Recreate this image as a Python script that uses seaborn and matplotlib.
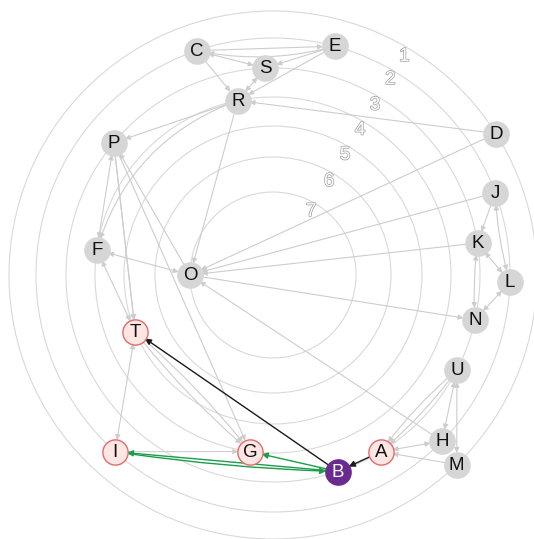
import numpy as np
import pandas as pd
import matplotlib
matplotlib.use("Agg")
import matplotlib.pyplot as plt
import matplotlib.patheffects as pe
from matplotlib.patches import Circle
import seaborn as sns

# ring levels (1 = outermost) and their radii in layout units
ring_levels = [1, 2, 3, 4, 5, 6, 7]
ring_radius = [264, 237, 207, 178, 149, 118, 83]

# nodes: name, ring level, angle on the ring (degrees), role
node_names = ["C", "E", "S", "R", "P", "D", "J", "K", "F", "O",
              "L", "N", "T", "U", "I", "G", "B", "A", "H", "M"]
node_level = [2, 2, 3, 4, 3, 1, 2, 3, 4, 7,
              2, 3, 5, 3, 2, 4, 3, 3, 2, 1]
node_angle = [108.8, 74.9, 92.2, 101.4, 140.3, 32.4, 20.3, 8.9, 171.9, 180.0,
              -1.7, -12.5, 202.4, -27.3, 228.2, 262.6, 288.3, 301.4, -44.5, -45.9]
node_role = ["other", "other", "other", "other", "other", "other", "other", "other", "other", "other",
             "other", "other", "neighbor", "other", "neighbor", "neighbor", "focal", "neighbor", "other", "other"]

# edges: source, target, kind, both directions, curvature
edge_src = ["C", "E", "C", "E", "S", "C", "E", "D", "R", "R", "R", "P", "P", "O", "P",
            "F", "T", "P", "T", "T", "T", "I", "D", "J", "K", "J", "K", "K", "L", "J",
            "O", "U", "U", "U", "U", "H", "M", "H",
            "A", "B", "B", "B", "I"]
edge_dst = ["E", "C", "S", "S", "R", "R", "R", "R", "P", "O", "F", "F", "T", "P", "G",
            "O", "F", "T", "I", "G", "G", "G", "O", "O", "O", "K", "L", "N", "N", "L",
            "N", "H", "M", "A", "A", "A", "A", "O",
            "B", "T", "G", "I", "B"]
edge_kind = ["gray"] * 38 + ["black", "black", "green", "green", "green"]
edge_both = [False, False, True, False, True, False, False, False, False, False, False, True, False, False, False,
             True, True, False, True, False, False, False, False, False, False, False, True, True, True, True,
             False, True, True, False, False, True, False, False,
             False, False, False, False, False]
edge_rad = [0.0, -0.12, 0.0, 0.0, 0.0, 0.0, 0.0, 0.0, 0.0, 0.0, 0.25, 0.0, 0.0, 0.0, 0.0,
            0.0, 0.0, 0.0, 0.0, 0.05, -0.05, 0.0, 0.0, 0.0, 0.0, 0.0, 0.0, 0.05, 0.0, 0.06,
            0.0, 0.0, 0.0, 0.06, -0.06, 0.0, 0.0, 0.0,
            0.0, 0.0, 0.0, 0.0, 0.03]

center_x, center_y = 273, 275

radius_by_level = dict(zip(ring_levels, ring_radius))
df = pd.DataFrame({"name": node_names, "level": node_level,
                   "angle": node_angle, "role": node_role})
df["r"] = df["level"].map(radius_by_level)
df["x"] = center_x + df["r"] * np.cos(np.radians(df["angle"]))
df["y"] = center_y - df["r"] * np.sin(np.radians(df["angle"]))
pos = {n: (x, y) for n, x, y in zip(df["name"], df["x"], df["y"])}

sns.set_style("white")
plt.rcParams["font.family"] = ["Liberation Sans", "DejaVu Sans"]

fig = plt.figure(figsize=(5.34, 5.39), dpi=100)
ax = fig.add_axes([0, 0, 1, 1])

# concentric rings
for lvl, r in zip(ring_levels, ring_radius):
    ax.add_patch(Circle((center_x, center_y), r, fill=False,
                        edgecolor="#d9d9d9", lw=0.8, zorder=1))
    a = np.radians(59)
    ax.text(center_x + (r - 9) * np.cos(a), center_y - (r - 9) * np.sin(a),
            str(lvl), fontsize=13.5, color="white", ha="center", va="center",
            zorder=2,
            path_effects=[pe.withStroke(linewidth=1.0, foreground="#9c9c9c")])

# edges
edge_colors = {"gray": "#cdcdcd", "black": "#1a1a1a", "green": "#1a9e4a"}
edge_z = {"gray": 2, "black": 4, "green": 4}
for s, t, k, both, rad in zip(edge_src, edge_dst, edge_kind, edge_both, edge_rad):
    ax.annotate("", xy=pos[t], xytext=pos[s],
                arrowprops=dict(arrowstyle="<|-|>" if both else "-|>",
                                color=edge_colors[k], lw=1.0 if k != "gray" else 0.8,
                                shrinkA=8.5, shrinkB=8.5,
                                mutation_scale=7.5 if k == "gray" else 9,
                                connectionstyle=f"arc3,rad={rad}"),
                zorder=edge_z[k])

# nodes
styles = {"other": ("#d6d6d6", "#d6d6d6"),
          "neighbor": ("#fde6e3", "#e36b6b"),
          "focal": ("#6a2b90", "#6a2b90")}
for role, (fc, ec) in styles.items():
    sub = df[df["role"] == role]
    sns.scatterplot(data=sub, x="x", y="y", ax=ax, s=330, color=fc,
                    edgecolor=ec, linewidth=1.0, zorder=5, legend=False)

for n, x, y, role in zip(df["name"], df["x"], df["y"], df["role"]):
    ax.text(x, y + 0.5, n, fontsize=13.5, ha="center", va="center",
            color="white" if role == "focal" else "#111111", zorder=6)

ax.set_xlim(0, 534)
ax.set_ylim(539, 0)
ax.set_aspect("equal")
ax.axis("off")

fig.savefig("out.png", dpi=100, facecolor="white")
